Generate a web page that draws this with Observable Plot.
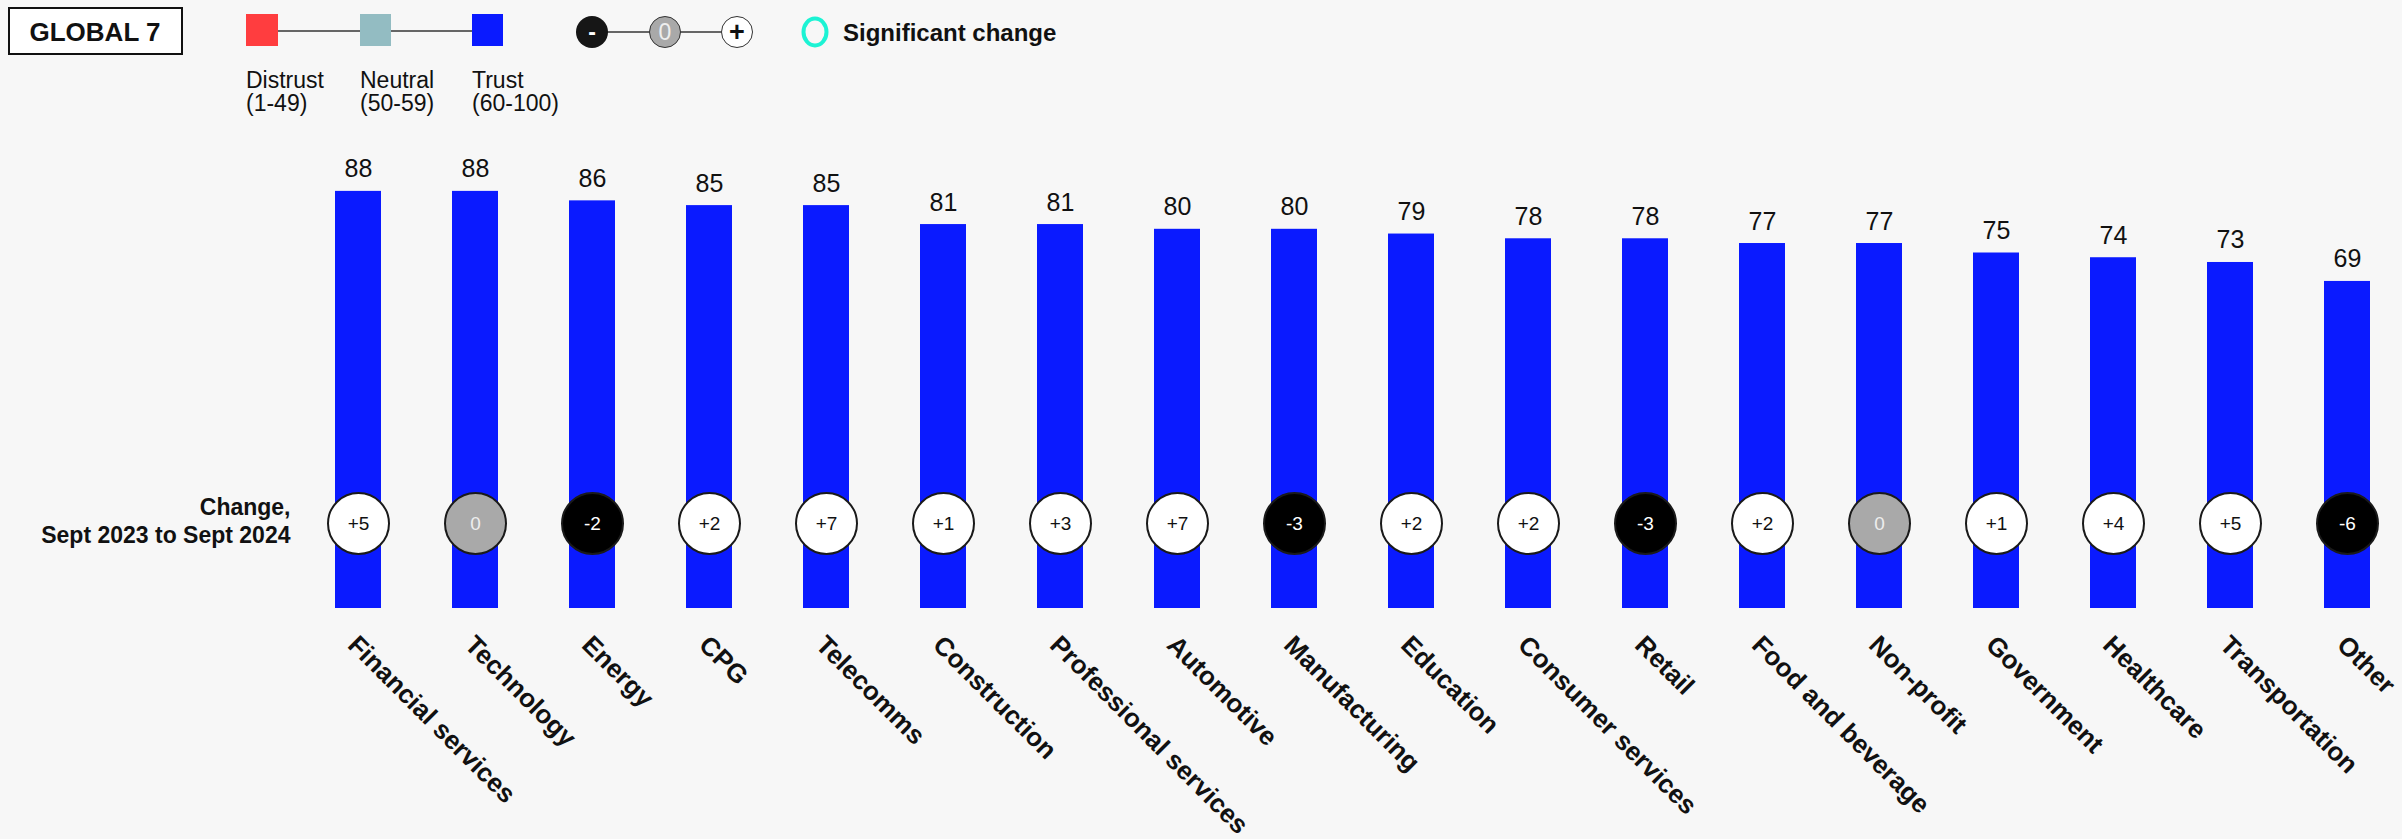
<!DOCTYPE html>
<html>
<head>
<meta charset="utf-8">
<script src="https://cdn.jsdelivr.net/npm/d3@7"></script>
<script src="https://cdn.jsdelivr.net/npm/@observablehq/plot@0.6"></script>
<style>
  html, body { margin: 0; padding: 0; background: #f7f7f7; }
  #wrap { position: relative; width: 2402px; height: 839px; font-family: "Liberation Sans", Arial, sans-serif; }
  #legend { position: absolute; left: 0; top: 0; }
  #chart { position: absolute; left: 0; top: 0; }
</style>
</head>
<body>
<div id="wrap">
  <div id="chart"></div>
  <svg id="legend" width="1100" height="130" font-family="'Liberation Sans', Arial, sans-serif">
    <rect x="9" y="8" width="173" height="46" fill="#ffffff" stroke="#111" stroke-width="2"></rect>
    <text x="95" y="41" text-anchor="middle" font-size="26" font-weight="bold" fill="#111">GLOBAL 7</text>
    <line x1="262" x2="487" y1="31" y2="31" stroke="#666" stroke-width="2"></line>
    <rect x="246" y="14" width="32" height="32" fill="#ff3d3f"></rect>
    <rect x="360" y="14" width="31" height="32" fill="#93bcc2"></rect>
    <rect x="472" y="14" width="31" height="32" fill="#0a1aff"></rect>
    <g font-size="23" fill="#111">
      <text x="246" y="88">Distrust</text>
      <text x="246" y="111">(1-49)</text>
      <text x="360" y="88">Neutral</text>
      <text x="360" y="111">(50-59)</text>
      <text x="472" y="88">Trust</text>
      <text x="472" y="111">(60-100)</text>
    </g>
    <line x1="592" x2="737" y1="32" y2="32" stroke="#666" stroke-width="2"></line>
    <circle cx="592" cy="32" r="16" fill="#161616"></circle>
    <circle cx="665" cy="32" r="15.5" fill="#a9a9a9" stroke="#333" stroke-width="1"></circle>
    <circle cx="737" cy="32" r="15.5" fill="#ffffff" stroke="#333" stroke-width="1"></circle>
    <text x="592" y="40" text-anchor="middle" font-size="23" font-weight="bold" fill="#fff">-</text>
    <text x="665" y="40" text-anchor="middle" font-size="23" fill="#eee">0</text>
    <text x="737" y="41" text-anchor="middle" font-size="27" font-weight="bold" fill="#111">+</text>
    <ellipse cx="815" cy="32" rx="11.5" ry="13.5" fill="none" stroke="#1cf3d4" stroke-width="4"></ellipse>
    <text x="843" y="41" font-size="24" font-weight="bold" fill="#111">Significant change</text>
  </svg>
</div>
<script>
const categories = ["Financial services","Technology","Energy","CPG","Telecomms","Construction","Professional services","Automotive","Manufacturing","Education","Consumer services","Retail","Food and beverage","Non-profit","Government","Healthcare","Transportation","Other"];
const trustValues = [88,88,86,85,85,81,81,80,80,79,78,78,77,77,75,74,73,69];
const changeValues = [5,0,-2,2,7,1,3,7,-3,2,2,-3,2,0,1,4,5,-6];
const changeCaption = ["Change,", "Sept 2023 to Sept 2024"];

const data = categories.map((c, i) => ({category: c, trust: trustValues[i], change: changeValues[i]}));
const changeLabel = d => d.change > 0 ? "+" + d.change : String(d.change);
const circleFill = d => d.change > 0 ? "#ffffff" : d.change < 0 ? "#000000" : "#a9a9a9";
const circleText = d => d.change > 0 ? "#111111" : d.change < 0 ? "#ffffff" : "#eeeeee";

const chart = Plot.plot({
  width: 2402,
  height: 839,
  marginTop: 134,
  marginBottom: 231,
  marginLeft: 334,
  marginRight: 32,
  style: {background: "transparent", fontFamily: "'Liberation Sans', Arial, sans-serif", overflow: "visible"},
  x: {domain: categories, paddingInner: 0.607, paddingOuter: 0, axis: null},
  y: {domain: [0, 100], axis: null},
  marks: [
    Plot.barY(data, {x: "category", y: "trust", fill: "#0a1aff"}),
    Plot.text(data, {x: "category", y: "trust", text: d => String(d.trust), lineAnchor: "bottom", dy: -14, fontSize: 25, fill: "#111"}),
    Plot.dot(data, {x: "category", y: () => 0, dy: -85, r: 30.5, fill: circleFill, stroke: "#1a1a1a", strokeWidth: 2}),
    Plot.text(data, {x: "category", y: () => 0, dy: -85, text: changeLabel, fill: circleText, fontSize: 19}),
    Plot.text(data, {x: "category", y: () => 0, text: "category", rotate: 45, textAnchor: "start", lineAnchor: "middle", dx: -6, dy: 32, fontSize: 26, fontWeight: "bold", fill: "#111"}),
    Plot.text([changeCaption.join("\n")], {frameAnchor: "left", y: () => 0, text: d => d, textAnchor: "end", lineAnchor: "middle", dx: -44, dy: -88, fontSize: 23, lineHeight: 1.217, fontWeight: "bold", fill: "#111"})
  ]
});
document.getElementById("chart").appendChild(chart);
</script>
</body>
</html>
